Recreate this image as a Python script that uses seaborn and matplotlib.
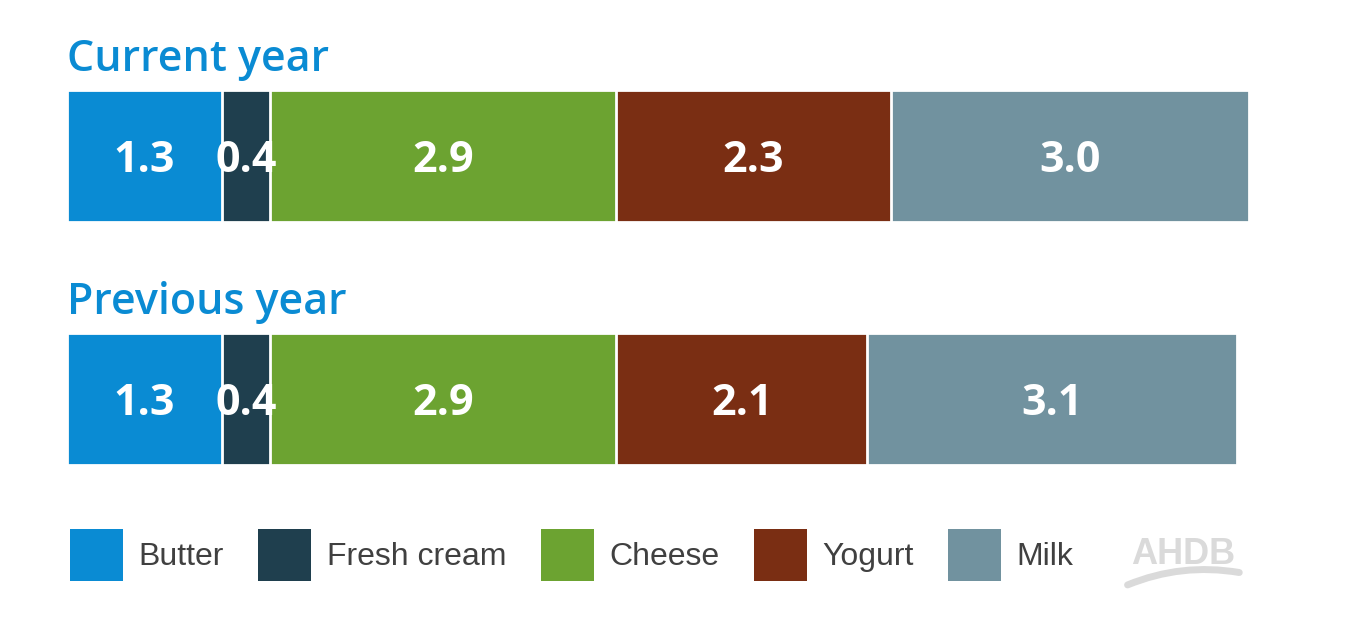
import numpy as np
import pandas as pd
import matplotlib
matplotlib.use("Agg")
import matplotlib.pyplot as plt
import seaborn as sns
from matplotlib.patches import Patch, FancyArrowPatch

# data
periods = ["Current year", "Previous year"]
products = ["Butter", "Fresh cream", "Cheese", "Yogurt", "Milk"]
current_vals = [1.3, 0.4, 2.9, 2.3, 3.0]
previous_vals = [1.3, 0.4, 2.9, 2.1, 3.1]
colors = ["#0A8BD3", "#1F3F4E", "#6CA331", "#7A2E13", "#71929F"]

sns.set_theme(style="white")
plt.rcParams["font.family"] = ["Open Sans", "DejaVu Sans"]

fig = plt.figure(figsize=(13.63, 6.30), dpi=100)
ax = fig.add_axes([0, 0, 1, 1])

# stacked bars: draw cumulative totals back to front
rows = []
for p, vals in zip(periods, [current_vals, previous_vals]):
    cum = np.cumsum(vals)
    for prod, v, c in zip(products, vals, cum):
        rows.append({"period": p, "product": prod, "value": v, "cum": c})
df = pd.DataFrame(rows)

for prod, col in reversed(list(zip(products, colors))):
    sub = df[df["product"] == prod]
    sns.barplot(data=sub, x="cum", y="period", order=periods, color=col,
                orient="h", width=0.543, edgecolor="white", linewidth=2,
                saturation=1, ax=ax)

# value labels in the middle of each segment
for _, r in df.iterrows():
    yi = periods.index(r["period"])
    ax.text(r["cum"] - r["value"] / 2, yi + 0.02, f"{r['value']:.1f}",
            ha="center", va="center", color="white", fontsize=31,
            fontweight="bold")

# period titles above each bar
for i, p in enumerate(periods):
    ax.text(0, i - 0.397, p, ha="left", va="center", color="#0A8BD3",
            fontsize=31, fontweight="semibold")

ax.set_xlim(-67 / 119.4, (1363 - 67) / 119.4)
ax.set_ylim(1.951, -0.642)
ax.axis("off")

handles = [Patch(facecolor=c, edgecolor="none") for c in colors]
leg = fig.legend(handles, products, loc="center left",
                 bbox_to_anchor=(70 / 1363, 1 - 555 / 630), ncol=5,
                 frameon=False, handlelength=1.66, handleheight=2.12,
                 handletextpad=0.48, columnspacing=1.08, borderpad=0,
                 borderaxespad=0,
                 prop={"family": "Liberation Sans", "size": 23})
for t in leg.get_texts():
    t.set_color("#404040")

# AHDB mark
fig.text(1183 / 1363, 1 - 554 / 630, "AHDB", ha="center", va="center",
         color="#DADADA", fontsize=26, fontweight="bold",
         family="Liberation Sans")
fig.patches.append(FancyArrowPatch((1125 / 1363, 1 - 586 / 630),
                                   (1242 / 1363, 1 - 573 / 630),
                                   transform=fig.transFigure,
                                   connectionstyle="arc3,rad=-0.15",
                                   arrowstyle="-", color="#DADADA", lw=5))

fig.savefig("out.png", dpi=100)
